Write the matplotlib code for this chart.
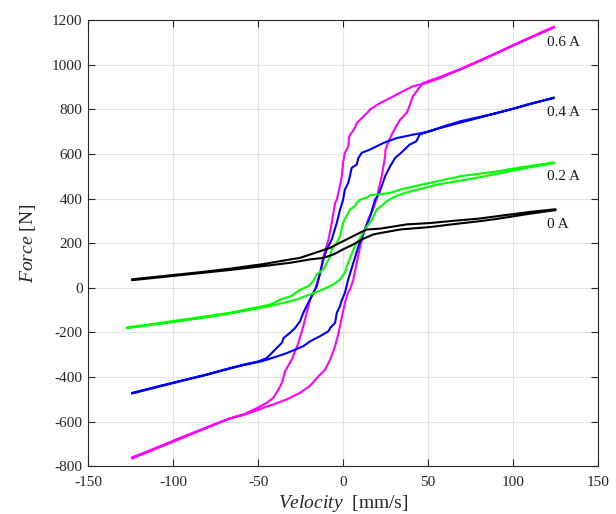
import matplotlib
matplotlib.use("Agg")
import matplotlib.pyplot as plt

plt.rcParams['font.family'] = ['Liberation Serif', 'DejaVu Serif']
plt.rcParams['mathtext.fontset'] = 'custom'
plt.rcParams['mathtext.rm'] = 'Liberation Serif'
plt.rcParams['mathtext.it'] = 'Liberation Serif:italic'
plt.rcParams['axes.unicode_minus'] = False

# ---------------- data (velocity mm/s, force N) ----------------
# 0.6 A
v06_up = [-124, -115, -105, -95, -85, -75, -66.5, -58.6, -50.8, -47, -41, -33, -25.3, -19.4, -14.5,
          -10.6, -7.6, -4.7, -2.7, -1, 0, 1.5, 3, 4, 6, 8, 10, 12.7, 15, 17.5, 19.8, 20.8, 22.7,
          23.7, 24.7, 24.9, 26.7, 28.6, 30.6, 33.5, 37.5, 39, 41, 44, 47, 57, 68.8, 80, 90, 100,
          110, 118, 124]
f06_up = [-760, -733, -702, -670, -640, -610, -586, -570, -550, -538, -523, -500, -471, -439, -397,
          -367, -322, -262, -202, -142, -105, -55, -20, -9, 37, 111, 185, 260, 310, 350, 400, 439, 500,
          544, 589, 619, 656, 686, 716, 753, 785, 814, 858, 888, 918, 945, 980, 1018, 1052, 1088,
          1122, 1150, 1170]
v06_dn = [124, 118, 110, 100, 90, 80, 68.8, 57, 49, 41, 35, 27.6, 21.8, 16, 14, 10, 8, 7, 5, 3.5,
          3, 1, 0, -0.8, -2.4, -3.7, -4.7, -6.7, -8.6, -11.6, -13.5, -16.5, -19.4, -21.4, -23.4,
          -26.3, -30.2, -34.1, -36, -38, -41, -44.9, -50.8, -58.6, -66.5, -75, -85, -95, -105,
          -115, -124]
f06_dn = [1166, 1146, 1120, 1085, 1050, 1015, 978, 940, 918, 903, 880, 850, 828, 800, 783, 753, 738,
          717, 695, 677, 632, 605, 561, 498, 439, 395, 380, 291, 216, 141, 67, -9, -54, -112, -172,
          -247, -322, -374, -426, -456, -493, -516, -540, -568, -585, -612, -643, -675, -706, -737,
          -765]

# 0.4 A
v04_up = [-124, -110, -95, -80, -66.5, -58.6, -49.8, -44.9, -33.1, -23.4, -19.4, -13.5, -8.6, -7.6,
          -4.7, -3.7, -1.8, -1, 1, 3, 6, 9, 12.7, 16, 18.8, 20.8, 22.7, 24.7, 27.6, 30.6, 35, 39,
          43, 45, 51, 59, 68.8, 80, 90, 100, 110, 124]
f04_up = [-474, -447, -418, -390, -362, -347, -333, -323, -293, -262, -240, -217, -195, -180, -157,
          -112, -82, -60, -24, 37, 111, 185, 260, 321, 395, 417, 455, 500, 544, 582, 611, 641, 656,
          686, 703, 720, 740, 762, 783, 803, 825, 850]
v04_dn = [124, 110, 100, 90, 80, 68.8, 59, 51, 41, 31.6, 23.7, 16, 11, 9, 8, 5, 4, 3, 1, 0, -1.8,
          -3.7, -6.7, -9.6, -11.6, -13.5, -15.5, -19.5, -23.4, -25.3, -28.2, -31.2, -35, -36, -41,
          -44.9, -49.8, -58.6, -66.5, -80, -95, -110, -124]
f04_dn = [853, 823, 802, 782, 765, 746, 723, 701, 686, 671, 649, 620, 605, 582, 552, 537, 500, 470,
          439, 395, 350, 291, 216, 172, 127, 67, 7, -52, -112, -150, -180, -202, -225, -247, -285,
          -315, -330, -345, -360, -388, -416, -444, -471]

# 0.2 A
v02_up = [-127, -110, -95, -80, -66.5, -43, -31, -27, -19.4, -11.6, -5.7, -1.8, 1, 3, 5, 7, 10,
          12.7, 17, 19.8, 21.8, 25.7, 29.6, 33.5, 41, 45, 55, 69, 80, 90, 100, 110, 124]
f02_up = [-181, -164, -149, -132, -116, -82, -60, -52, -30, -7, 15, 37, 67, 112, 150, 187, 224,
          260, 306, 351, 362, 388, 405, 418, 435, 442, 462, 480, 495, 510, 525, 540, 558]
v02_dn = [124, 110, 100, 90, 80, 69, 55, 35, 27.6, 19.8, 16, 13.7, 10, 8, 7, 4, 2, 0, -1, -1.8,
          -3.7, -6.7, -7.6, -9.6, -11.6, -15.5, -17.5, -20.4, -25.3, -31, -36, -43, -66.5, -80,
          -95, -110, -127]
f02_dn = [562, 546, 534, 521, 511, 500, 477, 443, 425, 418, 415, 403, 395, 380, 366, 350, 321, 291,
          260, 232, 202, 172, 141, 111, 82, 60, 30, 7, -9, -39, -50, -76, -112, -127, -144, -160,
          -178]

# 0 A
v00_up = [-124, -110, -95, -80, -66, -47, -31, -19.4, -11.6, -5.7, 0, 6, 12, 17.8, 21.8, 33.5, 51,
          65, 80, 90, 100, 110, 125]
f00_up = [34, 45, 57, 69, 80, 97, 112, 127, 134, 149, 172, 194, 220, 239, 245, 261, 272, 285, 298,
          308, 320, 332, 348]
v00_dn = [125, 110, 100, 90, 80, 65, 51, 37.5, 21.8, 14, 10, 4, -1.8, -7.6, -13.5, -19.4, -25.3,
          -31, -47, -66, -80, -95, -110, -124]
f00_dn = [352, 340, 330, 320, 310, 300, 290, 284, 265, 261, 247, 224, 202, 179, 164, 149, 134, 127,
          106, 86, 73, 61, 49, 38]

labels = ['0.6 A', '0.4 A', '0.2 A', '0 A']
label_y = [1101, 787, 500, 285]
colors = ['#ff00ff', '#0000ff', '#00ff00', '#000000']

loops = [(v06_up + v06_dn, f06_up + f06_dn),
         (v04_up + v04_dn, f04_up + f04_dn),
         (v02_up + v02_dn, f02_up + f02_dn),
         (v00_up + v00_dn, f00_up + f00_dn)]

# ---------------- figure ----------------
fig = plt.figure(figsize=(6.16, 5.14), dpi=100)
ax = fig.add_axes([0.143, 0.093, 0.828, 0.868])

for (v, f), c in zip(loops, colors):
    ax.plot(v, f, color=c, lw=1.5, solid_joinstyle='round')

for lab, y in zip(labels, label_y):
    ax.text(120, y, lab, fontsize=11, color='#1a1a1a', ha='left', va='center')

ax.set_xlim(-150, 150)
ax.set_ylim(-800, 1200)
ax.set_xticks(range(-150, 151, 50))
ax.set_yticks(range(-800, 1201, 200))
ax.grid(True, color='#e3e3e3', lw=0.8)
ax.set_axisbelow(True)
ax.tick_params(direction='in', length=5, width=0.8, top=True, right=True,
               labelsize=11, colors='#262626')
ax.tick_params(axis='x', pad=7)
ax.tick_params(axis='y', pad=4)
for s in ax.spines.values():
    s.set_color('#262626')
    s.set_linewidth(0.8)

ax.set_xlabel(r'$\mathit{Velocity}$  [mm/s]', fontsize=14, color='#262626', labelpad=3)
ax.set_ylabel(r'$\mathit{Force}$ [N]', fontsize=14, color='#262626', labelpad=10)

fig.savefig('out.png', dpi=100)
